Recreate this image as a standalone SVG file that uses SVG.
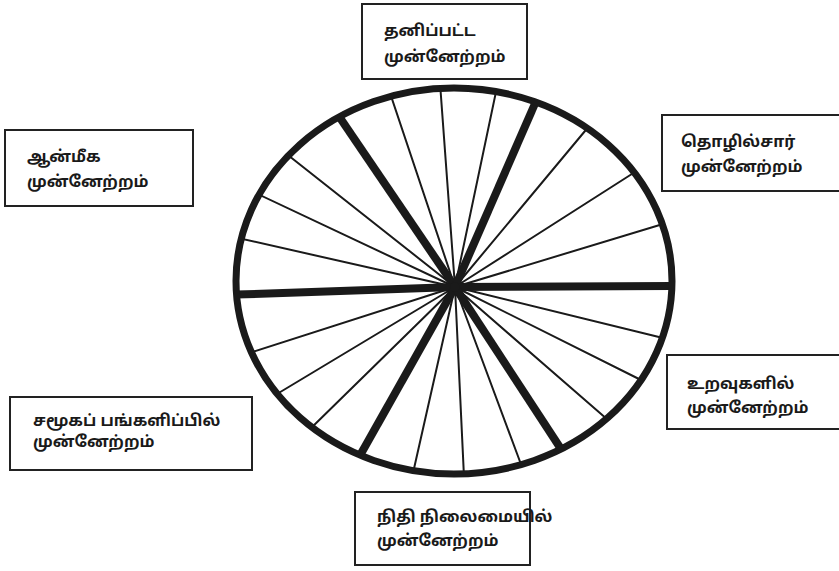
<svg xmlns="http://www.w3.org/2000/svg" width="839" height="571" viewBox="0 0 839 571">
<style>
.box{fill:#fff;stroke:#222;stroke-width:2}
.t{font-family:"Noto Sans Tamil","Noto Sans","Liberation Sans",sans-serif;font-size:16px;font-weight:bold;fill:#1a1a1a}
.thin{stroke:#1a1a1a;stroke-width:2;stroke-linecap:round}
.thick{stroke:#1a1a1a;stroke-width:8;stroke-linecap:butt}
.rim{fill:none;stroke:#1a1a1a;stroke-width:7}
</style>
<defs>
<clipPath id="wheel"><ellipse cx="454" cy="281" rx="218" ry="193"/></clipPath>
</defs>
<rect width="839" height="571" fill="#fff"/>
<g id="connectors">
<g clip-path="url(#wheel)">
<line class="thin" x1="455" y1="287" x2="388" y2="87"/>
<line class="thin" x1="455" y1="287" x2="440" y2="83"/>
<line class="thin" x1="455" y1="287" x2="497" y2="87"/>
<line class="thin" x1="455" y1="287" x2="279" y2="148"/>
<line class="thin" x1="455" y1="287" x2="245" y2="188"/>
<line class="thin" x1="455" y1="287" x2="225" y2="235"/>
<line class="thin" x1="455" y1="287" x2="590" y2="125"/>
<line class="thin" x1="455" y1="287" x2="635" y2="172"/>
<line class="thin" x1="455" y1="287" x2="663" y2="224"/>
<line class="thin" x1="455" y1="287" x2="240" y2="356"/>
<line class="thin" x1="455" y1="287" x2="267" y2="400"/>
<line class="thin" x1="455" y1="287" x2="306" y2="433"/>
<line class="thin" x1="455" y1="287" x2="413" y2="473"/>
<line class="thin" x1="455" y1="287" x2="464" y2="477"/>
<line class="thin" x1="455" y1="287" x2="522" y2="467"/>
<line class="thin" x1="455" y1="287" x2="608" y2="420"/>
<line class="thin" x1="455" y1="287" x2="641" y2="380"/>
<line class="thin" x1="455" y1="287" x2="663" y2="338"/>
<line class="thick" x1="455" y1="287" x2="334" y2="109"/>
<line class="thick" x1="455" y1="287" x2="537" y2="99"/>
<line class="thick" x1="455" y1="287" x2="225" y2="295"/>
<line class="thick" x1="455" y1="287" x2="675" y2="286"/>
<line class="thick" x1="455" y1="287" x2="358" y2="459"/>
<line class="thick" x1="455" y1="287" x2="561" y2="449"/>
</g>
<circle cx="455" cy="287" r="5" fill="#1a1a1a"/>
<ellipse class="rim" cx="454" cy="281" rx="218" ry="193"/>
</g>
<g id="personal">
<rect class="box" x="362" y="4" width="165" height="75"/>
<text class="t" x="384" y="36">தனிப்பட்ட</text>
<text class="t" x="384" y="62">முன்னேற்றம்</text>
</g>
<g id="spiritual">
<rect class="box" x="5" y="130" width="188" height="76"/>
<text class="t" x="27" y="162">ஆன்மீக</text>
<text class="t" x="27" y="187">முன்னேற்றம்</text>
</g>
<g id="career">
<rect class="box" x="662" y="115" width="185" height="76"/>
<text class="t" x="681" y="147">தொழில்சார்</text>
<text class="t" x="681" y="172">முன்னேற்றம்</text>
</g>
<g id="relationships">
<rect class="box" x="667" y="355" width="180" height="74"/>
<text class="t" x="687" y="389">உறவுகளில்</text>
<text class="t" x="687" y="413">முன்னேற்றம்</text>
</g>
<g id="social">
<rect class="box" x="10" y="397" width="242" height="73"/>
<text class="t" x="33" y="426">சமூகப் பங்களிப்பில்</text>
<text class="t" x="33" y="447">முன்னேற்றம்</text>
</g>
<g id="financial">
<rect class="box" x="355" y="492" width="175" height="73"/>
<text class="t" x="377" y="522">நிதி நிலைமையில்</text>
<text class="t" x="377" y="546">முன்னேற்றம்</text>
</g>
</svg>
